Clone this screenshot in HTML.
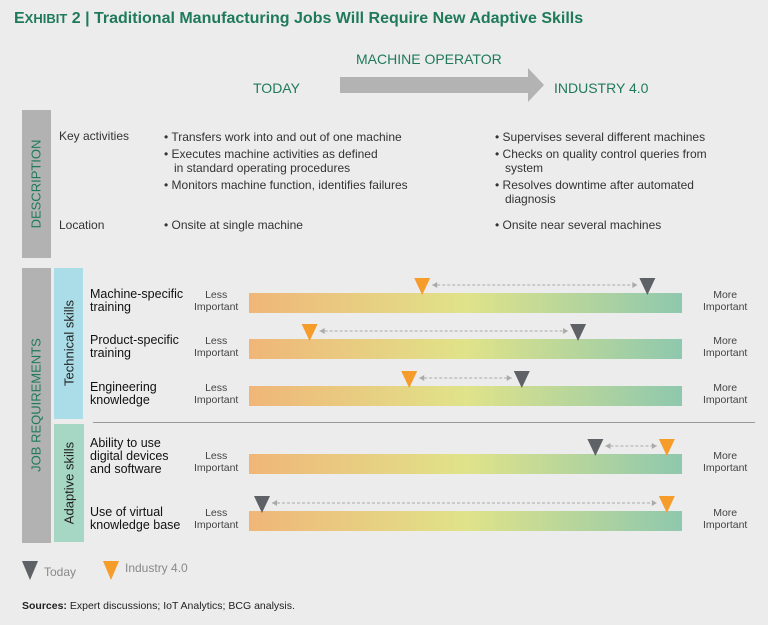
<!DOCTYPE html>
<html><head><meta charset="utf-8"><style>
body{margin:0;background:#ececec;font-family:"Liberation Sans",sans-serif;}
#page{position:relative;width:768px;height:625px;background:#ececec;overflow:hidden}
.t{position:absolute;white-space:nowrap}
.g{color:#1f7a5a}
.s{font-size:12px;color:#333;line-height:14px}
</style></head><body>
<div id="page">
<div class="t g" style="left:14px;top:10px;font-size:16px;font-weight:bold;">E<span style="font-size:13px">XHIBIT</span> 2 | Traditional Manufacturing Jobs Will Require New Adaptive Skills</div>
<div class="t g" style="left:356px;top:51px;font-size:14px">MACHINE OPERATOR</div>
<div class="t g" style="left:253px;top:80px;font-size:14px">TODAY</div>
<div class="t g" style="left:554px;top:80px;font-size:14px">INDUSTRY 4.0</div>
<svg style="position:absolute;left:340px;top:68px" width="205" height="34"><polygon points="0,9 188,9 188,0 204,17 188,34 188,25 0,25" fill="#b3b3b3"/></svg>
<div style="position:absolute;left:22px;top:110px;width:29px;height:148px;background:#b2b2b2"></div>
<div class="t g" style="left:36px;top:184px;font-size:13px;transform:translate(-50%,-50%) rotate(-90deg)">DESCRIPTION</div>
<div class="t s" style="left:59px;top:129px">Key activities</div>
<div class="t s" style="left:59px;top:218px">Location</div>
<div class="t s" style="left:164px;top:130px;line-height:14.5px">• Transfers work into and out of one machine<br><div style="height:2px"></div>• Executes machine activities as defined<br>&nbsp;&nbsp; in standard operating procedures<br><div style="height:2px"></div>• Monitors machine function, identifies failures</div>
<div class="t s" style="left:164px;top:218px">• Onsite at single machine</div>
<div class="t s" style="left:495px;top:130px;line-height:14.5px">• Supervises several different machines<br><div style="height:2px"></div>• Checks on quality control queries from<br>&nbsp;&nbsp; system<br><div style="height:2px"></div>• Resolves downtime after automated<br>&nbsp;&nbsp; diagnosis</div>
<div class="t s" style="left:495px;top:218px">• Onsite near several machines</div>
<div style="position:absolute;left:22px;top:268px;width:29px;height:275px;background:#b2b2b2"></div>
<div class="t g" style="left:36px;top:405px;font-size:13px;transform:translate(-50%,-50%) rotate(-90deg)">JOB REQUIREMENTS</div>
<div style="position:absolute;left:54px;top:268px;width:29px;height:151px;background:#abdde8"></div>
<div class="t" style="left:69px;top:343px;font-size:13px;color:#222;transform:translate(-50%,-50%) rotate(-90deg)">Technical skills</div>
<div style="position:absolute;left:54px;top:424px;width:30px;height:118px;background:#a6d6c4"></div>
<div class="t" style="left:69px;top:483px;font-size:13px;color:#222;transform:translate(-50%,-50%) rotate(-90deg)">Adaptive skills</div>
<div style="position:absolute;left:93px;top:422px;width:662px;height:1px;background:#999"></div>
<svg id="chart" style="position:absolute;left:0;top:0" width="768" height="625">
<defs><linearGradient id="gr" x1="0" x2="1"><stop offset="0" stop-color="#f0b678"/><stop offset="0.5" stop-color="#e0e389"/><stop offset="1" stop-color="#8ec8ae"/></linearGradient></defs>
</svg>
<svg style="position:absolute;left:22px;top:561px" width="16" height="20"><polygon points="0,0 16,0 8,19" fill="#5e6166"/></svg>
<div class="t" style="left:44px;top:565px;font-size:12px;color:#888">Today</div>
<svg style="position:absolute;left:103px;top:561px" width="16" height="20"><polygon points="0,0 16,0 8,19" fill="#f59c2b"/></svg>
<div class="t" style="left:125px;top:561px;font-size:12px;color:#888">Industry 4.0</div>
<div class="t" style="left:22px;top:600px;font-size:10.5px;color:#222"><b>Sources:</b> Expert discussions; IoT Analytics; BCG analysis.</div>
</div>
<script>
const skills=["Machine-specific\ntraining","Product-specific\ntraining","Engineering\nknowledge","Ability to use\ndigital devices\nand software","Use of virtual\nknowledge base"];
const todayValues=[92,76,63,80,3];
const industryValues=[40,14,37,96.5,96.5];
const barTops=[293,339,386,454,511];
const X0=249,X1=682;
const xs=v=>X0+(X1-X0)*v/100;
const NS="http://www.w3.org/2000/svg";
const svg=document.getElementById('chart');
function mk(tag,attrs){const e=document.createElementNS(NS,tag);for(const k in attrs)e.setAttribute(k,attrs[k]);svg.appendChild(e);return e;}
const page=document.getElementById('page');
skills.forEach((s,i)=>{
 const y=barTops[i];
 const b=mk('rect',{x:X0,y:y,width:X1-X0,height:20,fill:'url(#gr)'});
 
 
 const lines=s.split('\n');
 const lab=document.createElement('div');
 lab.className='t s';
 lab.style.cssText=`left:90px;top:${y-5-(lines.length-2)*7-(lines.length==3?5:0)}px;font-size:12.5px;line-height:13px;color:#111`;
 lab.innerHTML=lines.join('<br>');
 
 
 page.appendChild(lab);
 const l=document.createElement('div');l.className='t';
 l.style.cssText=`left:194px;top:${y-4}px;font-size:10.5px;line-height:12px;color:#444;text-align:center`;
 l.innerHTML='Less<br>Important';
 
 
 page.appendChild(l);
 const m=document.createElement('div');m.className='t';
 m.style.cssText=`left:703px;top:${y-4}px;font-size:10.5px;line-height:12px;color:#444;text-align:center`;
 m.innerHTML='More<br>Important';
 
 
 page.appendChild(m);
 const a=xs(todayValues[i]),c=xs(industryValues[i]);
 const lo=Math.min(a,c),hi=Math.max(a,c);
 const ln=mk('line',{x1:lo+10,x2:hi-10,y1:y-8,y2:y-8,stroke:'#aaa','stroke-width':1,'stroke-dasharray':'3,2'});
 
 
 [[lo+10,1],[hi-10,-1]].forEach(([px,d])=>{const h=mk('polygon',{points:`${px},${y-8} ${px+5*d},${y-11} ${px+5*d},${y-5}`,fill:'#aaa'});
 
 });
 const t=mk('polygon',{points:`${a-8},${y-15} ${a+8},${y-15} ${a},${y+2}`,fill:'#5e6166'});
 
 
 const n=mk('polygon',{points:`${c-8},${y-15} ${c+8},${y-15} ${c},${y+2}`,fill:'#f59c2b'});
 
 
});
</script>
</body></html>
